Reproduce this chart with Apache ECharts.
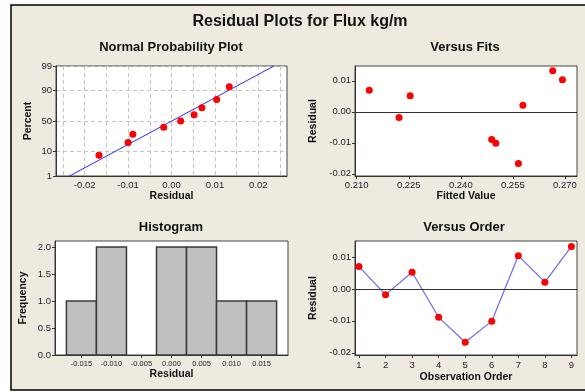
<!DOCTYPE html>
<html>
<head>
<meta charset="utf-8">
<script src="https://cdn.jsdelivr.net/npm/echarts@6/dist/echarts.min.js"></script>
<style>
html,body{margin:0;padding:0;background:#fff;}
#c{width:585px;height:392px;}
</style>
</head>
<body>
<div id="c"></div>
<script>
// ---- data ----
const observationOrder = [1, 2, 3, 4, 5, 6, 7, 8, 9];
const residuals = [0.0070, -0.0018, 0.0052, -0.0089, -0.0167, -0.0101, 0.0104, 0.0021, 0.0133];
const fittedValues = [0.2136, 0.2222, 0.2254, 0.2489, 0.2566, 0.2501, 0.2693, 0.2579, 0.2665];

const nppResidual = [-0.0167, -0.0100, -0.0089, -0.0018, 0.0021, 0.0052, 0.0070, 0.0104, 0.0133];
const nppPercent = [7.4, 18.1, 28.7, 39.4, 50.0, 60.6, 71.3, 81.9, 92.6];
const nppLineResidual = [-0.0235, 0.0236];
const nppLinePercent = [1, 99];

const histBinCenters = [-0.015, -0.010, -0.005, 0.000, 0.005, 0.010, 0.015];
const histCounts = [1, 2, 0, 2, 2, 1, 1];
const histBinWidth = 0.005;

const nppXTicks = [-0.02, -0.01, 0.00, 0.01, 0.02];
const nppXGrid = [-0.025, -0.02, -0.015, -0.01, -0.005, 0, 0.005, 0.01, 0.015, 0.02, 0.025];
const nppYTickPercent = [1, 10, 50, 90, 99];
const fitsXTicks = [0.210, 0.225, 0.240, 0.255, 0.270];
const residTicks = [-0.02, -0.01, 0.00, 0.01];
const histXTicks = [-0.015, -0.010, -0.005, 0.000, 0.005, 0.010, 0.015];
const histYTicks = [0, 0.5, 1.0, 1.5, 2.0];

// inverse standard normal CDF (probability-axis transform)
function probit(p){
  const a=[-3.969683028665376e+01,2.209460984245205e+02,-2.759285104469687e+02,1.383577518672690e+02,-3.066479806614716e+01,2.506628277459239e+00];
  const b=[-5.447609879822406e+01,1.615858368580409e+02,-1.556989798598866e+02,6.680131188771972e+01,-1.328068155288572e+01];
  const c=[-7.784894002430293e-03,-3.223964580411365e-01,-2.400758277161838e+00,-2.549732539343734e+00,4.374664141464968e+00,2.938163982698783e+00];
  const d=[7.784695709041462e-03,3.224671290700398e-01,2.445134137142996e+00,3.754408661907416e+00];
  const pl=0.02425, ph=1-pl; let q,r;
  if(p<pl){q=Math.sqrt(-2*Math.log(p));return (((((c[0]*q+c[1])*q+c[2])*q+c[3])*q+c[4])*q+c[5])/((((d[0]*q+d[1])*q+d[2])*q+d[3])*q+1);}
  if(p<=ph){q=p-0.5;r=q*q;return (((((a[0]*r+a[1])*r+a[2])*r+a[3])*r+a[4])*r+a[5])*q/(((((b[0]*r+b[1])*r+b[2])*r+b[3])*r+b[4])*r+1);}
  q=Math.sqrt(-2*Math.log(1-p));return -(((((c[0]*q+c[1])*q+c[2])*q+c[3])*q+c[4])*q+c[5])/((((d[0]*q+d[1])*q+d[2])*q+d[3])*q+1);
}
const nppYTickZ = nppYTickPercent.map(p => probit(p/100));

const FONT = 'Liberation Sans, Arial, sans-serif';
const labelColor = '#1e1e28';
const tickLabel = {fontFamily: FONT, fontSize: 9.5, color: labelColor};
const axisNameStyle = {fontFamily: FONT, fontSize: 10.5, fontWeight: 'bold', color: '#111'};
const axLine = {show: true, onZero: false, lineStyle: {color: '#333', width: 1}};
const axTick = {show: true, length: 3, inside: false, lineStyle: {color: '#333'}};

const chart = echarts.init(document.getElementById('c'), null, {renderer: 'canvas'});

const subTitle = (text, x, y) => ({
  text, left: x, top: y, textAlign: 'center', padding: 0,
  textStyle: {fontFamily: FONT, fontSize: 13, fontWeight: 'bold', color: '#111'}
});

const gridBase = {show: true, backgroundColor: '#fff', borderColor: '#444', borderWidth: 1, containLabel: false};

const option = {
  backgroundColor: '#fff',
  animation: false,
  graphic: [{
    type: 'rect', z: -10, silent: true,
    shape: {x: 11, y: 5, width: 590, height: 385},
    style: {fill: '#EEEAE0', stroke: '#000', lineWidth: 1.5}
  }],
  title: [
    {text: 'Residual Plots for Flux kg/m', left: 300, top: 14, textAlign: 'center', padding: 0,
     textStyle: {fontFamily: FONT, fontSize: 16, fontWeight: 'bold', color: '#111'}},
    subTitle('Normal Probability Plot', 171, 41),
    subTitle('Versus Fits', 465, 41),
    subTitle('Histogram', 171, 221),
    subTitle('Versus Order', 464, 221)
  ],
  grid: [
    Object.assign({left: 56, top: 66, width: 231, height: 110}, gridBase),
    Object.assign({left: 355, top: 66, width: 222, height: 110}, gridBase),
    Object.assign({left: 55, top: 241, width: 233, height: 114}, gridBase),
    Object.assign({left: 355, top: 241, width: 222, height: 114}, gridBase)
  ],
  xAxis: [
    {gridIndex: 0, type: 'value', min: -0.0266, max: 0.0266,
     name: 'Residual', nameLocation: 'middle', nameGap: 15, nameTextStyle: axisNameStyle,
     axisLine: axLine,
     axisTick: {show: false, customValues: nppXGrid},
     axisLabel: Object.assign({customValues: nppXTicks, margin: 4, formatter: v => v.toFixed(2)}, tickLabel),
     splitLine: {show: true, lineStyle: {color: '#c4c4c4', type: [4, 3], width: 1}}},
    {gridIndex: 1, type: 'value', min: 0.2095, max: 0.2735,
     name: 'Fitted Value', nameLocation: 'middle', nameGap: 15, nameTextStyle: axisNameStyle,
     axisLine: axLine, axisTick: Object.assign({customValues: fitsXTicks}, axTick),
     axisLabel: Object.assign({customValues: fitsXTicks, margin: 4, formatter: v => v.toFixed(3)}, tickLabel),
     splitLine: {show: false}},
    {gridIndex: 2, type: 'value', min: -0.0194, max: 0.0194,
     name: 'Residual', nameLocation: 'middle', nameGap: 13, nameTextStyle: axisNameStyle,
     axisLine: axLine, axisTick: Object.assign({customValues: histXTicks}, axTick),
     axisLabel: Object.assign({customValues: histXTicks, margin: 5, formatter: v => v.toFixed(3)}, tickLabel, {fontSize: 7.5}),
     splitLine: {show: false}},
    {gridIndex: 3, type: 'value', min: 0.85, max: 9.21,
     name: 'Observation Order', nameLocation: 'middle', nameGap: 17, nameTextStyle: axisNameStyle,
     axisLine: axLine, axisTick: Object.assign({customValues: observationOrder}, axTick),
     axisLabel: Object.assign({customValues: observationOrder, margin: 5, formatter: v => String(Math.round(v))}, tickLabel),
     splitLine: {show: false}}
  ],
  yAxis: [
    {gridIndex: 0, type: 'value', min: probit(0.01), max: probit(0.99),
     name: 'Percent', nameLocation: 'middle', nameGap: 22, nameTextStyle: axisNameStyle,
     axisLine: axLine, axisTick: Object.assign({customValues: nppYTickZ}, axTick),
     axisLabel: Object.assign({customValues: nppYTickZ, margin: 4, formatter: v => {
        let best = 0, bd = Infinity;
        nppYTickZ.forEach((z, i) => { const dd = Math.abs(z - v); if (dd < bd) { bd = dd; best = i; } });
        return String(nppYTickPercent[best]);
     }}, tickLabel),
     splitLine: {show: true, lineStyle: {color: '#c4c4c4', type: [4, 3], width: 1}}},
    {gridIndex: 1, type: 'value', min: -0.0207, max: 0.0148,
     name: 'Residual', nameLocation: 'middle', nameGap: 36, nameTextStyle: axisNameStyle,
     axisLine: axLine, axisTick: Object.assign({customValues: residTicks}, axTick),
     axisLabel: Object.assign({customValues: residTicks, margin: 4, formatter: v => v.toFixed(2)}, tickLabel),
     splitLine: {show: false}},
    {gridIndex: 2, type: 'value', min: 0, max: 2.11,
     name: 'Frequency', nameLocation: 'middle', nameGap: 26, nameTextStyle: axisNameStyle,
     axisLine: axLine, axisTick: Object.assign({customValues: histYTicks}, axTick),
     axisLabel: Object.assign({customValues: histYTicks, margin: 4, formatter: v => v.toFixed(1)}, tickLabel),
     splitLine: {show: false}},
    {gridIndex: 3, type: 'value', min: -0.0207, max: 0.0150,
     name: 'Residual', nameLocation: 'middle', nameGap: 36, nameTextStyle: axisNameStyle,
     axisLine: axLine, axisTick: Object.assign({customValues: residTicks}, axTick),
     axisLabel: Object.assign({customValues: residTicks, margin: 4, formatter: v => v.toFixed(2)}, tickLabel),
     splitLine: {show: false}}
  ],
  series: [
    {type: 'line', xAxisIndex: 0, yAxisIndex: 0, symbol: 'none',
     data: nppLineResidual.map((r, i) => [r, probit(nppLinePercent[i]/100)]),
     lineStyle: {color: '#2a2aff', width: 1}, z: 2},
    {type: 'scatter', xAxisIndex: 0, yAxisIndex: 0, symbolSize: 7,
     data: nppResidual.map((r, i) => [r, probit(nppPercent[i]/100)]),
     itemStyle: {color: '#ff0000', opacity: 1}, z: 3},
    {type: 'scatter', xAxisIndex: 1, yAxisIndex: 1, symbolSize: 7,
     data: fittedValues.map((f, i) => [f, residuals[i]]),
     itemStyle: {color: '#ff0000', opacity: 1}, z: 3,
     markLine: {silent: true, symbol: 'none', label: {show: false},
       lineStyle: {color: '#333', type: 'solid', width: 1}, data: [{yAxis: 0}]}},
    {type: 'custom', xAxisIndex: 2, yAxisIndex: 2,
     data: histBinCenters.map((c, i) => [c, histCounts[i]]),
     renderItem: function (params, api) {
       const c = api.value(0), n = api.value(1);
       if (!n) return null;
       const p0 = api.coord([c - histBinWidth/2, n]);
       const p1 = api.coord([c + histBinWidth/2, 0]);
       return {type: 'rect',
         shape: {x: p0[0], y: p0[1], width: p1[0] - p0[0], height: p1[1] - p0[1]},
         style: {fill: '#c0c0c0', stroke: '#3a3a3a', lineWidth: 1.5}};
     }},
    {type: 'line', xAxisIndex: 3, yAxisIndex: 3, symbol: 'circle', symbolSize: 7,
     data: observationOrder.map((o, i) => [o, residuals[i]]),
     lineStyle: {color: '#6a6af5', width: 1.2},
     itemStyle: {color: '#ff0000', opacity: 1}, z: 3,
     markLine: {silent: true, symbol: 'none', label: {show: false},
       lineStyle: {color: '#333', type: 'solid', width: 1}, data: [{yAxis: 0}]}}
  ]
};
chart.setOption(option);
</script>
</body>
</html>
